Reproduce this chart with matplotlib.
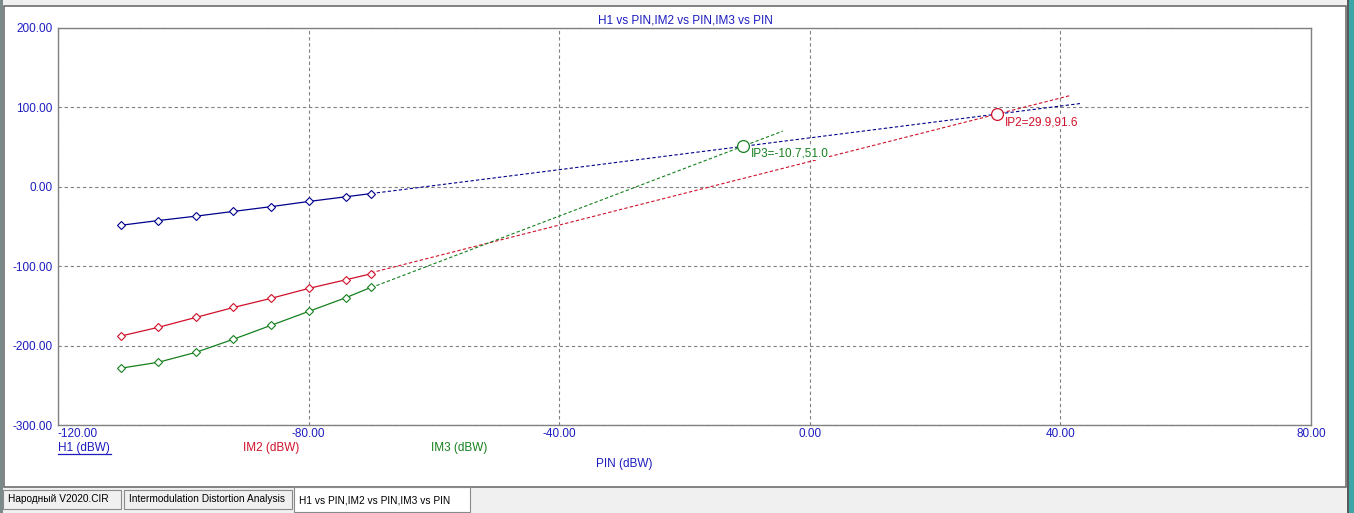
import matplotlib
matplotlib.use("Agg")
import matplotlib.pyplot as plt
from matplotlib.patches import Rectangle
from matplotlib.lines import Line2D

plt.rcParams['font.family'] = ['Liberation Sans', 'DejaVu Sans']

# ---- data ----
pin = [-110, -104, -98, -92, -86, -80, -74, -70]
h1 = [-48.5, -42.5, -37.0, -31.0, -25.0, -18.5, -12.5, -8.5]
im2 = [-188.0, -177.0, -164.5, -152.0, -140.5, -128.0, -117.0, -109.5]
im3 = [-228.5, -221.0, -208.5, -192.0, -174.5, -157.0, -139.5, -126.5]

# extrapolated (fitted) line end points
h1_ext_x = [-70, 43.4]
h1_ext_y = [-8.5, 105.1]
im2_ext_x = [-70, 41.5]
im2_ext_y = [-108.2, 114.8]
im3_ext_x = [-70, -4.3]
im3_ext_y = [-126.9, 70.2]

ip3 = (-10.7, 51.0)
ip2 = (29.9, 91.6)
ip3_label = "IP3=-10.7,51.0"
ip2_label = "IP2=29.9,91.6"

xticks = [-120, -80, -40, 0, 40, 80]
yticks = [-300, -200, -100, 0, 100, 200]
title = "H1 vs PIN,IM2 vs PIN,IM3 vs PIN"
tabs = ["Народный V2020.CIR", "Intermodulation Distortion Analysis", "H1 vs PIN,IM2 vs PIN,IM3 vs PIN"]

# ---- style ----
W, H = 1354, 513
C_H1 = '#00008c'
C_IM2 = '#d0102a'
C_IM3 = '#16801e'
C_TXT = '#1c1cc0'
FS = 8.5

fig = plt.figure(figsize=(W / 100, H / 100), dpi=100)
fig.patch.set_facecolor('#f0f0f0')

def fx(px):
    return px / W

def fy(py):
    return 1 - py / H

# window chrome
fig.patches.append(Rectangle((fx(4), fy(487)), fx(1342), (487 - 6) / H, transform=fig.transFigure,
                             facecolor='white', edgecolor='#6e6e6e', lw=1.2, zorder=-10))
fig.patches.append(Rectangle((fx(0), fy(513)), fx(3), 1, transform=fig.transFigure,
                             facecolor='#7a8a8a', edgecolor='none', zorder=-10))
fig.patches.append(Rectangle((fx(1349), fy(513)), fx(5), 1, transform=fig.transFigure,
                             facecolor='#3aa6a6', edgecolor='none', zorder=-10))
fig.patches.append(Rectangle((fx(1347), fy(513)), fx(2), 1, transform=fig.transFigure,
                             facecolor='#5a5a5a', edgecolor='none', zorder=-10))

# bottom tabs
tab_x = [3, 124, 294]
tab_w = [118, 168, 176]
for i, (tx, tw, lab) in enumerate(zip(tab_x, tab_w, tabs)):
    sel = (i == 2)
    top = 487 if sel else 490
    bot = 512 if sel else 509
    fig.patches.append(Rectangle((fx(tx), fy(bot)), fx(tw), (bot - top) / H, transform=fig.transFigure,
                                 facecolor='white' if sel else '#f0f0f0', edgecolor='#8a8a8a', lw=0.8, zorder=-9))
    fig.text(fx(tx + 5), fy((top + bot) / 2 + (1 if sel else 0)), lab, fontsize=7.3, color='black',
             ha='left', va='center')

# ---- axes ----
L, R, T, B = 58, 1311, 28, 425
ax = fig.add_axes([fx(L), fy(B), (R - L) / W, (B - T) / H])
ax.set_zorder(1)
ax.set_facecolor('white')
ax.set_xlim(-120, 80)
ax.set_ylim(-300, 200)
ax.set_xticks(xticks)
ax.set_yticks(yticks)
ax.set_xticklabels([f"{v:.2f}" for v in xticks])
ax.set_yticklabels([f"{v:.2f}" for v in yticks])
ax.tick_params(length=0, labelsize=FS, labelcolor=C_TXT)
ax.tick_params(axis='x', pad=2)
ax.tick_params(axis='y', pad=4)
xl = ax.get_xticklabels()
xl[0].set_ha('left')
for s in ax.spines.values():
    s.set_color('#808080')
    s.set_linewidth(1.0)
ax.grid(True, color='#808080', linestyle=(0, (3, 2.5)), linewidth=0.8)
ax.set_axisbelow(True)

lw = 0.9
ax.plot(pin, h1, color=C_H1, lw=lw, marker='D', ms=3.6, mfc='white', mec=C_H1, mew=0.8, zorder=4)
ax.plot(pin, im2, color=C_IM2, lw=lw, marker='D', ms=3.6, mfc='white', mec=C_IM2, mew=0.8, zorder=4)
ax.plot(pin, im3, color=C_IM3, lw=lw, marker='D', ms=3.6, mfc='white', mec=C_IM3, mew=0.8, zorder=4)

dash = (0, (3, 2))
ax.plot(h1_ext_x, h1_ext_y, color=C_H1, lw=0.8, ls=dash, zorder=3)
ax.plot(im2_ext_x, im2_ext_y, color=C_IM2, lw=0.8, ls=dash, zorder=3)
ax.plot(im3_ext_x, im3_ext_y, color=C_IM3, lw=0.8, ls=dash, zorder=3)

ax.plot([ip3[0]], [ip3[1]], marker='o', ms=8.5, mfc='white', mec=C_IM3, mew=0.9, ls='none', zorder=8)
ax.plot([ip2[0]], [ip2[1]], marker='o', ms=8.5, mfc='white', mec=C_IM2, mew=0.9, ls='none', zorder=8)

ax.annotate(ip3_label, xy=ip3, xytext=(8, -7), textcoords='offset pixels', ha='left', va='center',
            fontsize=FS, color=C_IM3, zorder=7,
            bbox=dict(facecolor='white', edgecolor='none', pad=0.3))
ax.annotate(ip2_label, xy=ip2, xytext=(8, -8), textcoords='offset pixels', ha='left', va='center',
            fontsize=FS, color=C_IM2, zorder=7,
            bbox=dict(facecolor='white', edgecolor='none', pad=0.3))

# title and axis/series labels
fig.text(fx(685), fy(20.5), title, fontsize=FS, color=C_TXT, ha='center', va='center')
fig.text(fx(58), fy(448), "H1 (dBW)", fontsize=FS, color=C_TXT, ha='left', va='center')
fig.add_artist(Line2D([fx(58), fx(111)], [fy(454), fy(454)], color=C_TXT, lw=0.9, transform=fig.transFigure))
fig.text(fx(243), fy(448), "IM2 (dBW)", fontsize=FS, color=C_IM2, ha='left', va='center')
fig.text(fx(431), fy(448), "IM3 (dBW)", fontsize=FS, color=C_IM3, ha='left', va='center')
fig.text(fx(596), fy(464), "PIN (dBW)", fontsize=FS, color=C_TXT, ha='left', va='center')

fig.savefig("out.png", dpi=100, facecolor=fig.get_facecolor())
